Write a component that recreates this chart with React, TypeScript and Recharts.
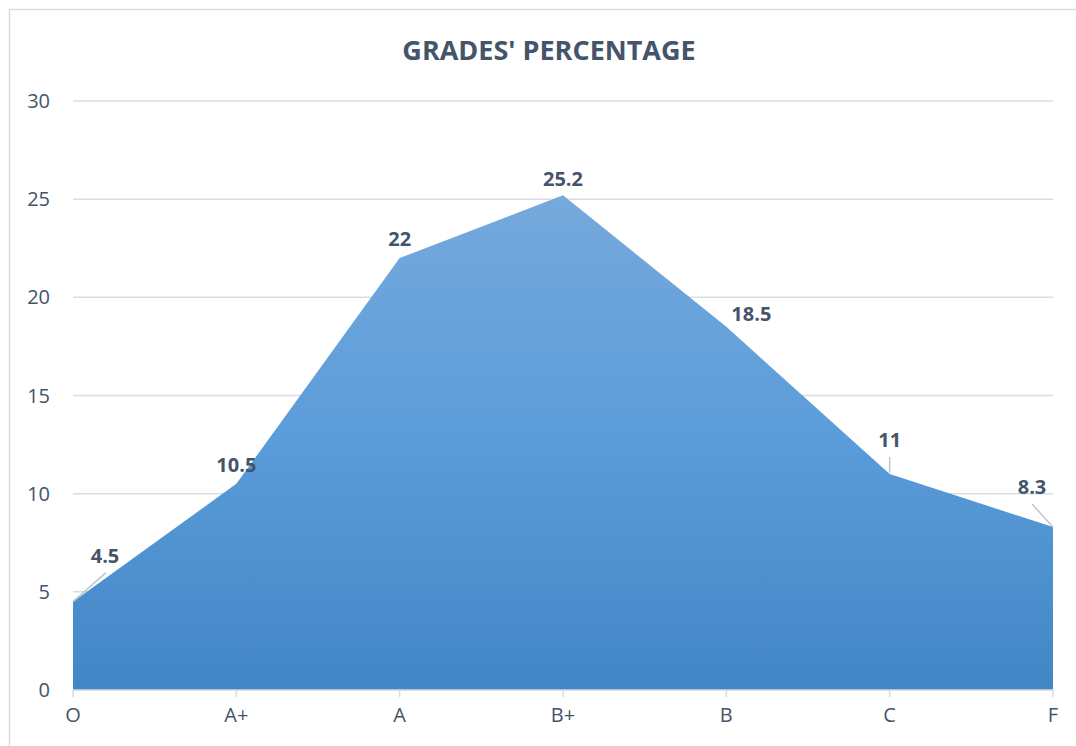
import React from "react";
import { AreaChart, Area, XAxis, YAxis, CartesianGrid, LabelList } from "recharts";

const grades = ["O", "A+", "A", "B+", "B", "C", "F"];
const percentages = [4.5, 10.5, 22, 25.2, 18.5, 11, 8.3];
const yTicks = [0, 5, 10, 15, 20, 25, 30];

const data = grades.map((g, i) => ({ grade: g, value: percentages[i] }));

// label placement (layout only): offset of label centre from the point, and leader line
const labelLayout = [
  { dx: 32, dy: -46, leader: [0, 0, 33, -29] },
  { dx: 0, dy: -19, leader: null },
  { dx: 0, dy: -19, leader: null },
  { dx: 0, dy: -16, leader: null },
  { dx: 25, dy: -13, leader: null },
  { dx: 0, dy: -34, leader: [0, -1, 0, -17] },
  { dx: -21, dy: -40, leader: [0, 0, -21, -23] },
];

const TEXT = "#44546A";
const FONT = "'Open Sans', 'Noto Sans', sans-serif";

const DataLabel = (props: any) => {
  const { x, y, value, index } = props;
  const l = labelLayout[index];
  return (
    <g>
      {l.leader && (
        <line
          x1={x + l.leader[0]}
          y1={y + l.leader[1]}
          x2={x + l.leader[2]}
          y2={y + l.leader[3]}
          stroke="#BFC5CE"
          strokeWidth={1.5}
        />
      )}
      <text
        x={x + l.dx}
        y={y + l.dy + 7}
        textAnchor="middle"
        fontFamily={FONT}
        fontWeight={700}
        fontSize={20}
        fill={TEXT}
      >
        {value}
      </text>
    </g>
  );
};

export default function App() {
  return (
    <div style={{ position: "absolute", left: 0, top: 0, width: 1076, height: 746, background: "#fff" }}>
      <svg width={1076} height={746} style={{ position: "absolute", left: 0, top: 0 }}>
        <rect x={9.5} y={9.5} width={1080} height={760} fill="#fff" stroke="#D9DDE3" strokeWidth={1.5} />
        <text
          x={549}
          y={60}
          textAnchor="middle"
          fontFamily={FONT}
          fontWeight={700}
          fontSize={27}
          fill={TEXT}
        >
          GRADES' PERCENTAGE
        </text>
      </svg>
      <div style={{ position: "absolute", left: 0, top: 0 }}>
        <AreaChart
          width={1076}
          height={746}
          data={data}
          margin={{ top: 101, right: 23, bottom: 16, left: 8 }}
        >
          <defs>
            <linearGradient id="areaFill" x1="0" y1="0" x2="0" y2="1">
              <stop offset="0%" stopColor="#76A9DC" />
              <stop offset="50%" stopColor="#5A9CD9" />
              <stop offset="100%" stopColor="#4386C6" />
            </linearGradient>
          </defs>
          <CartesianGrid vertical={false} stroke="#D9DDE3" strokeWidth={1.5} />
          <XAxis
            dataKey="grade"
            height={40}
            axisLine={{ stroke: "#D9DDE3", strokeWidth: 1.5 }}
            tickLine={{ stroke: "#D9DDE3", strokeWidth: 1.5 }}
            tickSize={7}
            tick={{ fill: TEXT, fontSize: 20, fontFamily: FONT }}
            tickMargin={11}
          />
          <YAxis
            width={65}
            domain={[0, 30]}
            ticks={yTicks}
            axisLine={false}
            tickLine={false}
            tickMargin={17}
            tick={{ fill: TEXT, fontSize: 20, fontFamily: FONT }}
          />
          <Area
            type="linear"
            dataKey="value"
            stroke="none"
            fill="url(#areaFill)"
            fillOpacity={1}
            isAnimationActive={false}
          >
            <LabelList dataKey="value" content={DataLabel} />
          </Area>
        </AreaChart>
      </div>
    </div>
  );
}
